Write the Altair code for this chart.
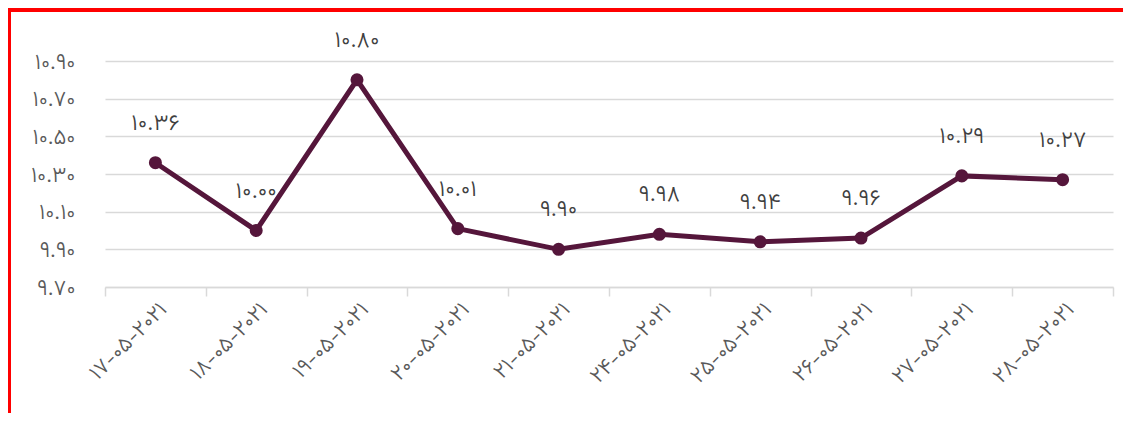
import altair as alt
import pandas as pd

dates = ["۱۷-۰۵-۲۰۲۱", "۱۸-۰۵-۲۰۲۱", "۱۹-۰۵-۲۰۲۱", "۲۰-۰۵-۲۰۲۱", "۲۱-۰۵-۲۰۲۱",
         "۲۴-۰۵-۲۰۲۱", "۲۵-۰۵-۲۰۲۱", "۲۶-۰۵-۲۰۲۱", "۲۷-۰۵-۲۰۲۱", "۲۸-۰۵-۲۰۲۱"]
values = [10.36, 10.00, 10.80, 10.01, 9.90, 9.98, 9.94, 9.96, 10.29, 10.27]
value_labels = ["۱۰.۳۶", "۱۰.۰۰", "۱۰.۸۰", "۱۰.۰۱", "۹.۹۰", "۹.۹۸", "۹.۹۴", "۹.۹۶", "۱۰.۲۹", "۱۰.۲۷"]
y_ticks = [9.7, 9.9, 10.1, 10.3, 10.5, 10.7, 10.9]
y_tick_labels = ["۹.۷۰", "۹.۹۰", "۱۰.۱۰", "۱۰.۳۰", "۱۰.۵۰", "۱۰.۷۰", "۱۰.۹۰"]

df = pd.DataFrame({"date": dates, "value": values, "label": value_labels})

FONT = "Vazirmatn"
LINE = "#55163B"
GRID = "#d9d9d9"

label_arr = "[" + ",".join("'" + s + "'" for s in y_tick_labels) + "]"

x_enc = alt.X("date:N", sort=None, title=None,
              scale=alt.Scale(paddingInner=0, paddingOuter=0),
              axis=alt.Axis(labelAngle=-45, labelFont=FONT, labelFontSize=22, labelFontWeight=300,
                            labelColor="#595959", domainColor=GRID, domainWidth=1.5,
                            tickColor=GRID, tickWidth=1.5, tickSize=9, tickBand="extent",
                            labelPadding=2, labelOverlap=False, grid=False))
y_enc = alt.Y("value:Q", title=None,
              scale=alt.Scale(domain=[9.7, 10.9], nice=False, zero=False),
              axis=alt.Axis(values=y_ticks, tickCount=20,
                            labelExpr=label_arr + "[round((datum.value-9.7)/0.2)]",
                            labelFont=FONT, labelFontSize=22, labelFontWeight=300, labelColor="#595959",
                            labelOverlap=False, labelBound=False,
                            domain=False, ticks=False, labelPadding=30,
                            gridColor=GRID, gridWidth=1.5))

base = alt.Chart(df)
line = base.mark_line(color=LINE, strokeWidth=5).encode(x=x_enc, y=y_enc)
pts = base.mark_point(filled=True, color=LINE, size=170, opacity=1).encode(x="date:N", y="value:Q")
txt = base.mark_text(dy=-40, font=FONT, fontSize=23, fontWeight=300, color="#404040").encode(
    x="date:N", y="value:Q", text="label:N")

border_top = alt.Chart(df).mark_rule(color="#ff0000", strokeWidth=3, clip=False).encode(
    x=alt.value(-97), x2=alt.value(1030), y=alt.value(-51))
border_left = alt.Chart(df).mark_rule(color="#ff0000", strokeWidth=3, clip=False).encode(
    x=alt.value(-96), y=alt.value(-52), y2=alt.value(360))

chart = alt.layer(border_top, border_left, line, pts, txt).properties(
    width=1008, height=226,
    autosize=alt.AutoSizeParams(type="none"),
    padding={"left": 97, "top": 53, "right": 10, "bottom": 126},
).configure_view(stroke=None)

chart.save("out.html", embed_options={"renderer": "svg", "actions": False})
